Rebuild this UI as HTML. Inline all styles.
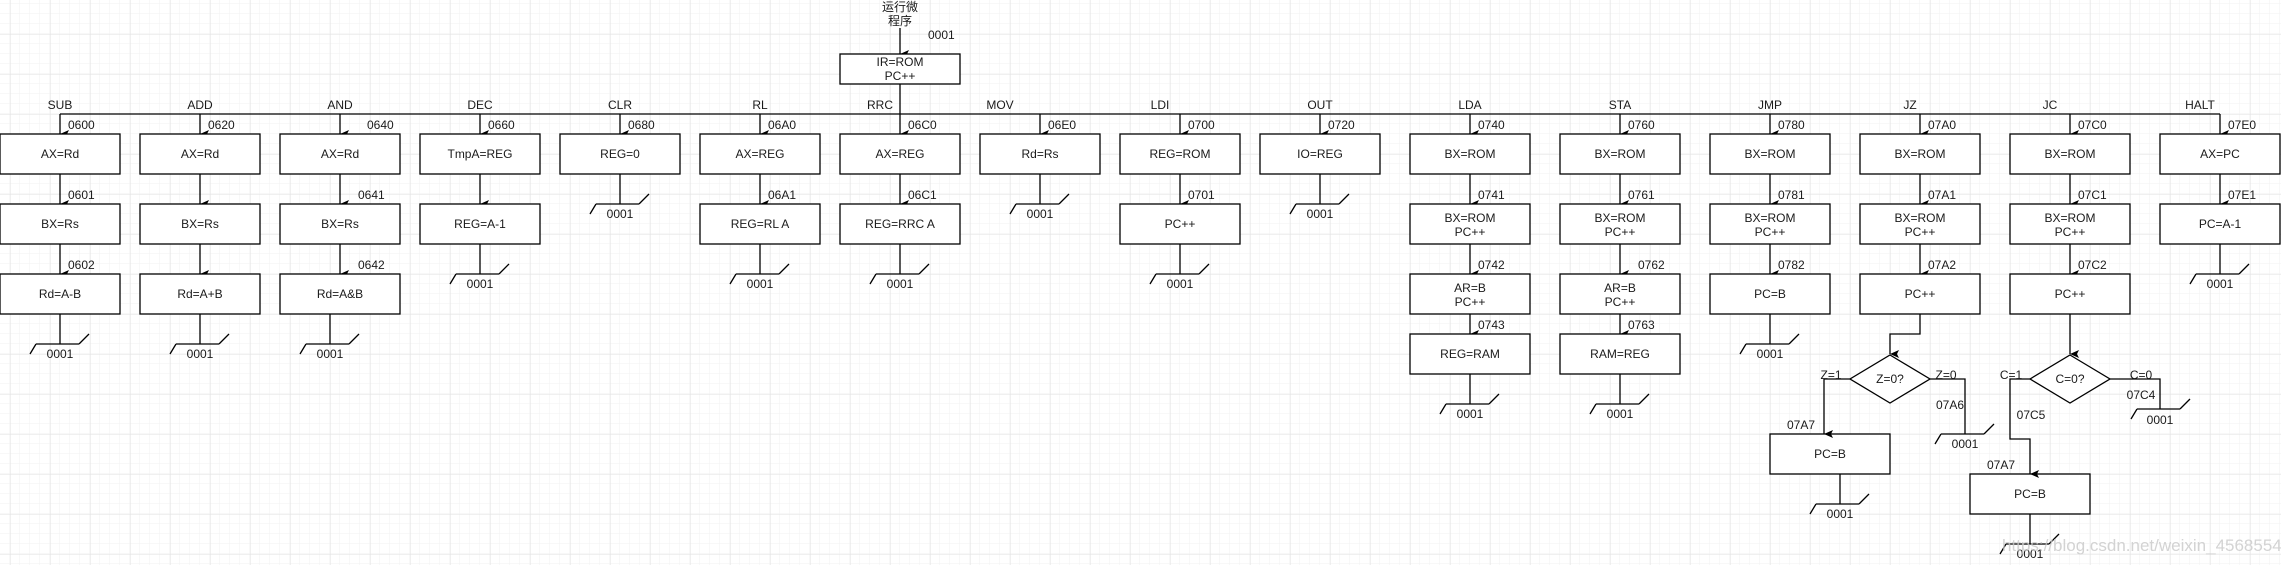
<!DOCTYPE html>
<html><head><meta charset="utf-8"><style>
html,body{margin:0;padding:0;background:#fff;}
svg{display:block;}
text{font-family:"Liberation Sans","Noto Sans CJK SC",sans-serif;font-size:12px;fill:#1a1a1a;}
.c{text-anchor:middle;}
</style></head><body>
<svg width="2281" height="565" viewBox="0 0 2281 565" xmlns="http://www.w3.org/2000/svg">
<defs>
<pattern id="gm" width="10" height="10" patternUnits="userSpaceOnUse" x="0" y="4"><path d="M10 0V10M0 10H10" fill="none" stroke="#f2f2f2" stroke-width="1"/></pattern>
<pattern id="gM" width="40" height="40" patternUnits="userSpaceOnUse" x="10" y="34"><path d="M0 0V40M0 0H40" fill="none" stroke="#e2e2e2" stroke-width="1"/></pattern>
<marker id="a" markerWidth="8" markerHeight="10" refX="4" refY="9" orient="auto-start-reverse" markerUnits="userSpaceOnUse" viewBox="0 0 8 10"><path d="M0 0L4 9L8 0L4 2Z" fill="#000"/></marker>
<marker id="d" markerWidth="8" markerHeight="10" refX="4" refY="9" orient="auto" markerUnits="userSpaceOnUse" viewBox="0 0 8 10"><path d="M0 0L4 9L8 0L4 2Z" fill="#000"/></marker>
</defs>
<rect width="2281" height="565" fill="#fff"/>
<rect width="2281" height="565" fill="url(#gm)"/>
<rect width="2281" height="565" fill="url(#gM)"/>

<g stroke="#000" stroke-width="1.3" fill="none">
<!-- top -->
<line x1="900" y1="28" x2="900" y2="54" marker-end="url(#d)"/>
<rect x="840" y="54" width="120" height="30" fill="#fff"/>
<line x1="900" y1="84" x2="900" y2="114"/>
<!-- bus -->
<line x1="60" y1="114" x2="2220" y2="114"/>

<!-- bus arrows -->
<line x1="60" y1="114" x2="60" y2="134" marker-end="url(#d)"/>
<line x1="200" y1="114" x2="200" y2="134" marker-end="url(#d)"/>
<line x1="340" y1="114" x2="340" y2="134" marker-end="url(#d)"/>
<line x1="480" y1="114" x2="480" y2="134" marker-end="url(#d)"/>
<line x1="620" y1="114" x2="620" y2="134" marker-end="url(#d)"/>
<line x1="760" y1="114" x2="760" y2="134" marker-end="url(#d)"/>
<line x1="900" y1="114" x2="900" y2="134" marker-end="url(#d)"/>
<line x1="1040" y1="114" x2="1040" y2="134" marker-end="url(#d)"/>
<line x1="1180" y1="114" x2="1180" y2="134" marker-end="url(#d)"/>
<line x1="1320" y1="114" x2="1320" y2="134" marker-end="url(#d)"/>
<line x1="1470" y1="114" x2="1470" y2="134" marker-end="url(#d)"/>
<line x1="1620" y1="114" x2="1620" y2="134" marker-end="url(#d)"/>
<line x1="1770" y1="114" x2="1770" y2="134" marker-end="url(#d)"/>
<line x1="1920" y1="114" x2="1920" y2="134" marker-end="url(#d)"/>
<line x1="2070" y1="114" x2="2070" y2="134" marker-end="url(#d)"/>
<line x1="2220" y1="114" x2="2220" y2="134" marker-end="url(#d)"/>

<!-- row1->row2 arrows -->
<line x1="60" y1="174" x2="60" y2="204" marker-end="url(#d)"/>
<line x1="200" y1="174" x2="200" y2="204" marker-end="url(#d)"/>
<line x1="340" y1="174" x2="340" y2="204" marker-end="url(#d)"/>
<line x1="480" y1="174" x2="480" y2="204" marker-end="url(#d)"/>
<line x1="760" y1="174" x2="760" y2="204" marker-end="url(#d)"/>
<line x1="900" y1="174" x2="900" y2="204" marker-end="url(#d)"/>
<line x1="1180" y1="174" x2="1180" y2="204" marker-end="url(#d)"/>
<line x1="1470" y1="174" x2="1470" y2="204" marker-end="url(#d)"/>
<line x1="1620" y1="174" x2="1620" y2="204" marker-end="url(#d)"/>
<line x1="1770" y1="174" x2="1770" y2="204" marker-end="url(#d)"/>
<line x1="1920" y1="174" x2="1920" y2="204" marker-end="url(#d)"/>
<line x1="2070" y1="174" x2="2070" y2="204" marker-end="url(#d)"/>
<line x1="2220" y1="174" x2="2220" y2="204" marker-end="url(#d)"/>
<!-- row2->row3 -->
<line x1="60" y1="244" x2="60" y2="274" marker-end="url(#d)"/>
<line x1="200" y1="244" x2="200" y2="274" marker-end="url(#d)"/>
<line x1="340" y1="244" x2="340" y2="274" marker-end="url(#d)"/>
<line x1="1470" y1="244" x2="1470" y2="274" marker-end="url(#d)"/>
<line x1="1620" y1="244" x2="1620" y2="274" marker-end="url(#d)"/>
<line x1="1770" y1="244" x2="1770" y2="274" marker-end="url(#d)"/>
<line x1="1920" y1="244" x2="1920" y2="274" marker-end="url(#d)"/>
<line x1="2070" y1="244" x2="2070" y2="274" marker-end="url(#d)"/>
<!-- row3->row4 -->
<line x1="1470" y1="314" x2="1470" y2="334" marker-end="url(#d)"/>
<line x1="1620" y1="314" x2="1620" y2="334" marker-end="url(#d)"/>

<!-- boxes -->
<g fill="#fff">
<rect x="0" y="134" width="120" height="40"/><rect x="0" y="204" width="120" height="40"/><rect x="0" y="274" width="120" height="40"/>
<rect x="140" y="134" width="120" height="40"/><rect x="140" y="204" width="120" height="40"/><rect x="140" y="274" width="120" height="40"/>
<rect x="280" y="134" width="120" height="40"/><rect x="280" y="204" width="120" height="40"/><rect x="280" y="274" width="120" height="40"/>
<rect x="420" y="134" width="120" height="40"/><rect x="420" y="204" width="120" height="40"/>
<rect x="560" y="134" width="120" height="40"/>
<rect x="700" y="134" width="120" height="40"/><rect x="700" y="204" width="120" height="40"/>
<rect x="840" y="134" width="120" height="40"/><rect x="840" y="204" width="120" height="40"/>
<rect x="980" y="134" width="120" height="40"/>
<rect x="1120" y="134" width="120" height="40"/><rect x="1120" y="204" width="120" height="40"/>
<rect x="1260" y="134" width="120" height="40"/>
<rect x="1410" y="134" width="120" height="40"/><rect x="1410" y="204" width="120" height="40"/><rect x="1410" y="274" width="120" height="40"/><rect x="1410" y="334" width="120" height="40"/>
<rect x="1560" y="134" width="120" height="40"/><rect x="1560" y="204" width="120" height="40"/><rect x="1560" y="274" width="120" height="40"/><rect x="1560" y="334" width="120" height="40"/>
<rect x="1710" y="134" width="120" height="40"/><rect x="1710" y="204" width="120" height="40"/><rect x="1710" y="274" width="120" height="40"/>
<rect x="1860" y="134" width="120" height="40"/><rect x="1860" y="204" width="120" height="40"/><rect x="1860" y="274" width="120" height="40"/>
<rect x="2010" y="134" width="120" height="40"/><rect x="2010" y="204" width="120" height="40"/><rect x="2010" y="274" width="120" height="40"/>
<rect x="2160" y="134" width="120" height="40"/><rect x="2160" y="204" width="120" height="40"/>
<rect x="1770" y="434" width="120" height="40"/>
<rect x="1970" y="474" width="120" height="40"/>
</g>

<!-- JZ branch -->
<polyline points="1920,314 1920,334 1890,334 1890,354" marker-end="url(#d)"/>
<polygon points="1890,355 1930,379 1890,403 1850,379" fill="#fff"/>
<polyline points="1850,379 1824,379 1824,434" marker-end="url(#d)"/>
<polyline points="1930,379 1965,379 1965,434"/>
<!-- JC branch -->
<line x1="2070" y1="314" x2="2070" y2="354" marker-end="url(#d)"/>
<polygon points="2070,355 2110,379 2070,403 2030,379" fill="#fff"/>
<polyline points="2030,379 2010,379 2010,439 2030,439 2030,474" marker-end="url(#d)"/>
<polyline points="2110,379 2160,379 2160,409"/>

<!-- terminals: vertical + shape -->
<path d="M60 314V344 M36 344H79 M30 354L36 344 M79 344L89 334"/>
<path d="M200 314V344 M176 344H219 M170 354L176 344 M219 344L229 334"/>
<path d="M330 314V344 M306 344H349 M300 354L306 344 M349 344L359 334"/>
<path d="M480 244V274 M456 274H499 M450 284L456 274 M499 274L509 264"/>
<path d="M620 174V204 M596 204H639 M590 214L596 204 M639 204L649 194"/>
<path d="M760 244V274 M736 274H779 M730 284L736 274 M779 274L789 264"/>
<path d="M900 244V274 M876 274H919 M870 284L876 274 M919 274L929 264"/>
<path d="M1040 174V204 M1016 204H1059 M1010 214L1016 204 M1059 204L1069 194"/>
<path d="M1180 244V274 M1156 274H1199 M1150 284L1156 274 M1199 274L1209 264"/>
<path d="M1320 174V204 M1296 204H1339 M1290 214L1296 204 M1339 204L1349 194"/>
<path d="M1470 374V404 M1446 404H1489 M1440 414L1446 404 M1489 404L1499 394"/>
<path d="M1620 374V404 M1596 404H1639 M1590 414L1596 404 M1639 404L1649 394"/>
<path d="M1770 314V344 M1746 344H1789 M1740 354L1746 344 M1789 344L1799 334"/>
<path d="M1840 474V504 M1816 504H1859 M1810 514L1816 504 M1859 504L1869 494"/>
<path d="M1965 434 M1941 434H1984 M1935 444L1941 434 M1984 434L1994 424"/>
<path d="M2160 409 M2137 409H2180 M2131 419L2137 409 M2180 409L2190 399"/>
<path d="M2030 514V544 M2006 544H2049 M2000 554L2006 544 M2049 544L2059 534"/>
<path d="M2220 244V274 M2196 274H2239 M2190 284L2196 274 M2239 274L2249 264"/>
</g>

<!-- text -->
<text class="c" x="900" y="11">运行微</text>
<text class="c" x="900" y="25">程序</text>
<text x="928" y="39">0001</text>
<text class="c" x="900" y="66">IR=ROM</text>
<text class="c" x="900" y="80">PC++</text>

<g class="c">
<text class="c" x="60" y="109">SUB</text><text class="c" x="200" y="109">ADD</text><text class="c" x="340" y="109">AND</text>
<text class="c" x="480" y="109">DEC</text><text class="c" x="620" y="109">CLR</text><text class="c" x="760" y="109">RL</text>
<text class="c" x="880" y="109">RRC</text><text class="c" x="1000" y="109">MOV</text><text class="c" x="1160" y="109">LDI</text>
<text class="c" x="1320" y="109">OUT</text><text class="c" x="1470" y="109">LDA</text><text class="c" x="1620" y="109">STA</text>
<text class="c" x="1770" y="109">JMP</text><text class="c" x="1910" y="109">JZ</text><text class="c" x="2050" y="109">JC</text>
<text class="c" x="2200" y="109">HALT</text>
</g>

<!-- addresses -->
<text x="68" y="129">0600</text><text x="68" y="199">0601</text><text x="68" y="269">0602</text>
<text x="208" y="129">0620</text>
<text x="367" y="129">0640</text><text x="358" y="199">0641</text><text x="358" y="269">0642</text>
<text x="488" y="129">0660</text>
<text x="628" y="129">0680</text>
<text x="768" y="129">06A0</text><text x="768" y="199">06A1</text>
<text x="908" y="129">06C0</text><text x="908" y="199">06C1</text>
<text x="1048" y="129">06E0</text>
<text x="1188" y="129">0700</text><text x="1188" y="199">0701</text>
<text x="1328" y="129">0720</text>
<text x="1478" y="129">0740</text><text x="1478" y="199">0741</text><text x="1478" y="269">0742</text><text x="1478" y="329">0743</text>
<text x="1628" y="129">0760</text><text x="1628" y="199">0761</text><text x="1638" y="269">0762</text><text x="1628" y="329">0763</text>
<text x="1778" y="129">0780</text><text x="1778" y="199">0781</text><text x="1778" y="269">0782</text>
<text x="1928" y="129">07A0</text><text x="1928" y="199">07A1</text><text x="1928" y="269">07A2</text>
<text x="2078" y="129">07C0</text><text x="2078" y="199">07C1</text><text x="2078" y="269">07C2</text>
<text x="2228" y="129">07E0</text><text x="2228" y="199">07E1</text>

<!-- box text -->
<text class="c" x="60" y="158">AX=Rd</text><text class="c" x="60" y="228">BX=Rs</text><text class="c" x="60" y="298">Rd=A-B</text>
<text class="c" x="200" y="158">AX=Rd</text><text class="c" x="200" y="228">BX=Rs</text><text class="c" x="200" y="298">Rd=A+B</text>
<text class="c" x="340" y="158">AX=Rd</text><text class="c" x="340" y="228">BX=Rs</text><text class="c" x="340" y="298">Rd=A&amp;B</text>
<text class="c" x="480" y="158">TmpA=REG</text><text class="c" x="480" y="228">REG=A-1</text>
<text class="c" x="620" y="158">REG=0</text>
<text class="c" x="760" y="158">AX=REG</text><text class="c" x="760" y="228">REG=RL A</text>
<text class="c" x="900" y="158">AX=REG</text><text class="c" x="900" y="228">REG=RRC A</text>
<text class="c" x="1040" y="158">Rd=Rs</text>
<text class="c" x="1180" y="158">REG=ROM</text><text class="c" x="1180" y="228">PC++</text>
<text class="c" x="1320" y="158">IO=REG</text>
<text class="c" x="1470" y="158">BX=ROM</text><text class="c" x="1470" y="222">BX=ROM</text><text class="c" x="1470" y="236">PC++</text>
<text class="c" x="1470" y="292">AR=B</text><text class="c" x="1470" y="306">PC++</text><text class="c" x="1470" y="358">REG=RAM</text>
<text class="c" x="1620" y="158">BX=ROM</text><text class="c" x="1620" y="222">BX=ROM</text><text class="c" x="1620" y="236">PC++</text>
<text class="c" x="1620" y="292">AR=B</text><text class="c" x="1620" y="306">PC++</text><text class="c" x="1620" y="358">RAM=REG</text>
<text class="c" x="1770" y="158">BX=ROM</text><text class="c" x="1770" y="222">BX=ROM</text><text class="c" x="1770" y="236">PC++</text><text class="c" x="1770" y="298">PC=B</text>
<text class="c" x="1920" y="158">BX=ROM</text><text class="c" x="1920" y="222">BX=ROM</text><text class="c" x="1920" y="236">PC++</text><text class="c" x="1920" y="298">PC++</text>
<text class="c" x="2070" y="158">BX=ROM</text><text class="c" x="2070" y="222">BX=ROM</text><text class="c" x="2070" y="236">PC++</text><text class="c" x="2070" y="298">PC++</text>
<text class="c" x="2220" y="158">AX=PC</text><text class="c" x="2220" y="228">PC=A-1</text>
<text class="c" x="1830" y="458">PC=B</text>
<text class="c" x="2030" y="498">PC=B</text>

<!-- branch labels -->
<text class="c" x="1890" y="383">Z=0?</text>
<text class="c" x="2070" y="383">C=0?</text>
<text class="c" x="1831" y="379">Z=1</text>
<text class="c" x="1946" y="379">Z=0</text>
<text class="c" x="2011" y="379">C=1</text>
<text class="c" x="2141" y="379">C=0</text>
<text class="c" x="1950" y="409">07A6</text>
<text class="c" x="2141" y="399">07C4</text>
<text class="c" x="2031" y="419">07C5</text>
<text class="c" x="1801" y="429">07A7</text>
<text class="c" x="2001" y="469">07A7</text>

<!-- terminal labels -->
<text class="c" x="60" y="358">0001</text><text class="c" x="200" y="358">0001</text><text class="c" x="330" y="358">0001</text>
<text class="c" x="480" y="288">0001</text><text class="c" x="620" y="218">0001</text><text class="c" x="760" y="288">0001</text>
<text class="c" x="900" y="288">0001</text><text class="c" x="1040" y="218">0001</text><text class="c" x="1180" y="288">0001</text>
<text class="c" x="1320" y="218">0001</text><text class="c" x="1470" y="418">0001</text><text class="c" x="1620" y="418">0001</text>
<text class="c" x="1770" y="358">0001</text><text class="c" x="1840" y="518">0001</text><text class="c" x="1965" y="448">0001</text>
<text class="c" x="2160" y="424">0001</text><text class="c" x="2030" y="558">0001</text><text class="c" x="2220" y="288">0001</text>

<text x="2002" y="551" style="font-size:17px;fill:#c8c8c8;fill-opacity:0.8">https://blog.csdn.net/weixin_45685541</text>
</svg>
</body></html>
